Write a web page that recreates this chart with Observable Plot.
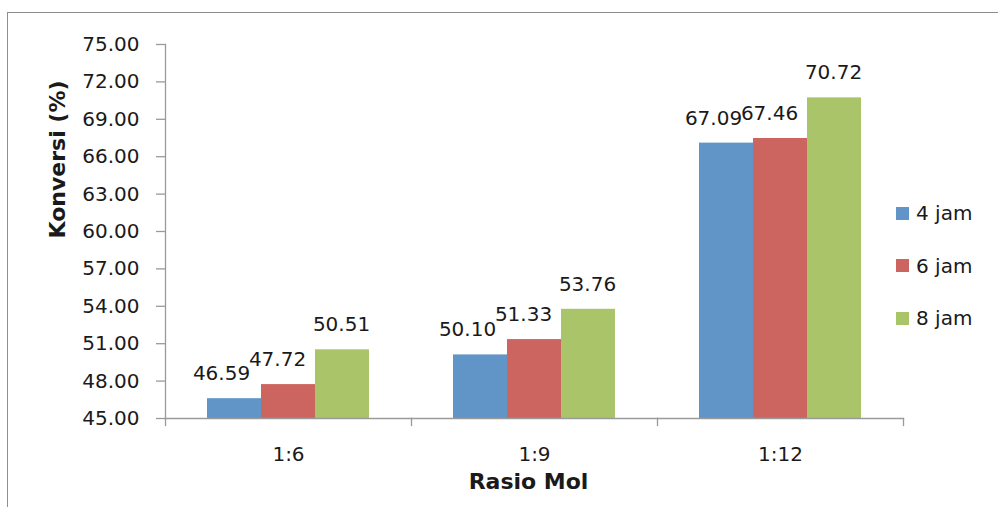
<!DOCTYPE html>
<html>
<head>
<meta charset="utf-8">
<script src="https://cdn.jsdelivr.net/npm/d3@7"></script>
<script src="https://cdn.jsdelivr.net/npm/@observablehq/plot@0.6"></script>
<style>
  html, body { margin: 0; padding: 0; background: #fff; }
  #wrap { position: relative; width: 998px; height: 507px; overflow: hidden; font-family: "DejaVu Sans", sans-serif; color: #1a1a1a; }
  #border { position: absolute; left: 7px; top: 12px; right: -10px; bottom: -10px; border-top: 1.5px solid #8e8e8e; border-left: 1.5px solid #8e8e8e; }
  #chart { position: absolute; left: 0; top: 0; }
  #legend { position: absolute; left: 896px; top: 199px; }
  .item { display: flex; align-items: center; height: 28px; margin-bottom: 24.5px; font-size: 20px; }
  .sw { width: 13px; height: 13px; margin-right: 7px; }
</style>
</head>
<body>
<div id="wrap">
  <div id="border"></div>
  <div id="chart"></div>
  <div id="legend"></div>
</div>
<script>
// Konversi (%) per rasio mol and reaction time
const categories = ["1:6", "1:9", "1:12"];
const series = ["4 jam", "6 jam", "8 jam"];
const values4 = [46.59, 50.10, 67.09];
const values6 = [47.72, 51.33, 67.46];
const values8 = [50.51, 53.76, 70.72];
const yTicks = [45, 48, 51, 54, 57, 60, 63, 66, 69, 72, 75];
const colors = ["#6195c8", "#cc645f", "#aac46a"];

const seriesValues = [values4, values6, values8];
const data = categories.flatMap((c, i) =>
  series.map((s, j) => ({category: c, series: s, value: seriesValues[j][i]}))
);

const W = 998, H = 507;
const mT = 44, mB = 89, mL = 164, mR = 94;
const innerH = H - mT - mB;
const axisColor = "#9a9a9a";
const labelDx = {"4 jam": -13, "6 jam": -11, "8 jam": -1};

const chart = Plot.plot({
  width: W,
  height: H,
  marginTop: mT,
  marginBottom: mB,
  marginLeft: mL,
  marginRight: mR,
  style: {fontFamily: "DejaVu Sans, sans-serif", fontSize: "20px", color: "#1a1a1a", background: "transparent", overflow: "visible"},
  fx: {domain: categories, padding: 0, label: null},
  x: {domain: series, paddingInner: 0, paddingOuter: 0.742, axis: null},
  y: {domain: [45, 75]},
  color: {domain: series, range: colors},
  marks: [
    Plot.barY(data, {fx: "category", x: "series", y1: 45, y2: "value", fill: "series"}),
    ...series.map(s =>
      Plot.text(data.filter(d => d.series === s), {
        fx: "category", x: "series", y: "value",
        text: d => d.value.toFixed(2),
        dy: -25, dx: labelDx[s], fill: "#1a1a1a"
      })
    ),
    // axis lines
    Plot.frame({anchor: "bottom", stroke: axisColor, strokeWidth: 1.3}),
    Plot.frame({anchor: "left", facetAnchor: "left", stroke: axisColor, strokeWidth: 1.3}),
    // category boundary ticks
    Plot.frame({anchor: "left", insetTop: innerH, insetBottom: -7, stroke: axisColor, strokeWidth: 1.3}),
    Plot.frame({anchor: "right", facetAnchor: "right", insetTop: innerH, insetBottom: -7, stroke: axisColor, strokeWidth: 1.3}),
    Plot.axisY({ticks: yTicks, tickFormat: d => d.toFixed(2), tickSize: 9, tickPadding: 17, stroke: axisColor, strokeWidth: 1.3, label: null}),
    Plot.axisFx({anchor: "bottom", tickSize: 0, tickPadding: 28, label: null}),
    Plot.text(["Konversi (%)"], {
      frameAnchor: "left", facetAnchor: "left", rotate: -90,
      dx: -108, dy: 7, fontWeight: "bold", fontSize: 22, fill: "#1a1a1a"
    }),
    Plot.text([{category: "1:9", title: "Rasio Mol"}], {
      fx: "category", text: "title", frameAnchor: "bottom",
      dy: 70, dx: -6, fontWeight: "bold", fontSize: 22, fill: "#1a1a1a"
    })
  ]
});
document.getElementById("chart").appendChild(chart);

// legend
const legend = document.getElementById("legend");
series.forEach((s, i) => {
  const item = document.createElement("div");
  item.className = "item";
  const sw = document.createElement("div");
  sw.className = "sw";
  sw.style.background = colors[i];
  const label = document.createElement("span");
  label.textContent = s;
  item.appendChild(sw);
  item.appendChild(label);
  legend.appendChild(item);
});
</script>
</body>
</html>
